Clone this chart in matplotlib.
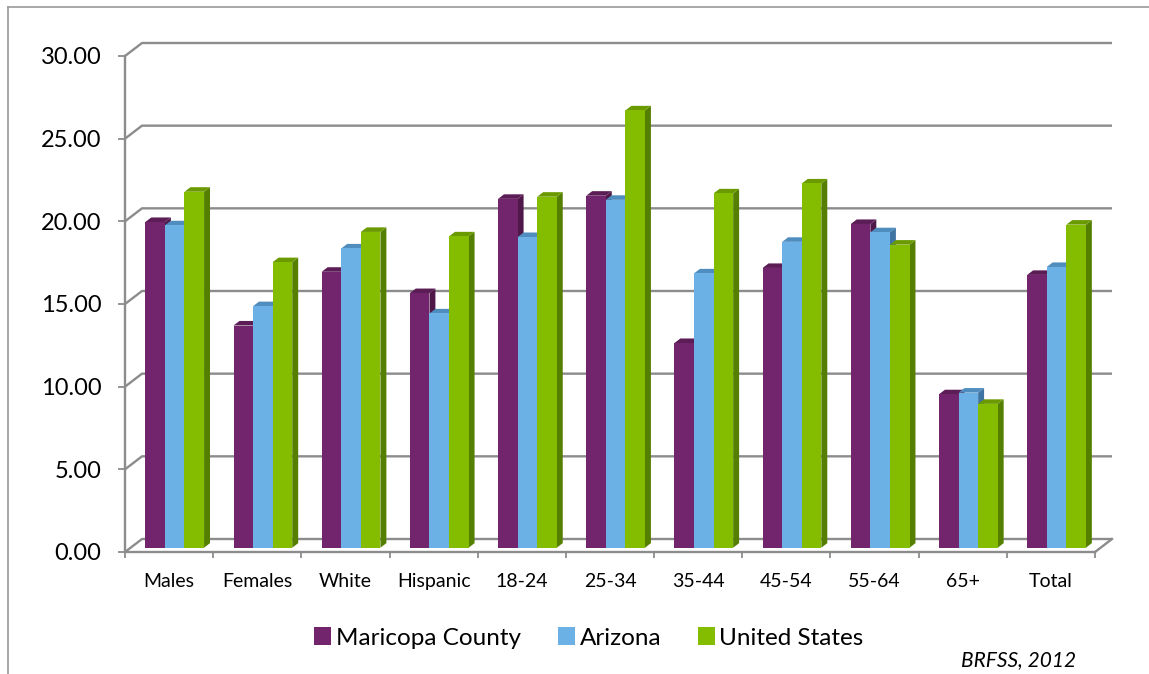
import matplotlib
matplotlib.use("Agg")
import matplotlib.pyplot as plt
from matplotlib.patches import Polygon, Patch
from matplotlib.lines import Line2D
import numpy as np

plt.rcParams['font.family'] = ['Lato', 'DejaVu Sans']

categories = ["Males", "Females", "White", "Hispanic", "18-24", "25-34",
              "35-44", "45-54", "55-64", "65+", "Total"]
maricopa = [19.70, 13.44, 16.69, 15.40, 21.10, 21.29, 12.38, 16.92, 19.58, 9.28, 16.50]
arizona = [19.50, 14.61, 18.10, 14.17, 18.79, 21.04, 16.59, 18.50, 19.08, 9.38, 16.98]
united_states = [21.53, 17.27, 19.10, 18.83, 21.23, 26.45, 21.43, 22.03, 18.33, 8.70, 19.54]
series_names = ["Maricopa County", "Arizona", "United States"]
y_ticks = [0, 5, 10, 15, 20, 25, 30]

front_colors = ["#72246C", "#6BB1E5", "#84BC00"]
top_colors = ["#5C1D57", "#4F8DBF", "#6B9A00"]
side_colors = ["#4F1848", "#3F74A3", "#557F00"]
grid_color = "#8C8C8C"

W, H = 1149, 674
fig = plt.figure(figsize=(W / 100, H / 100), dpi=100)
left_px, right_px, bottom_px, top_px = 125, 1095, 552, 56
ax = fig.add_axes([left_px / W, (H - bottom_px) / H,
                   (right_px - left_px) / W, (bottom_px - top_px) / H])
n = len(categories)
ax.set_xlim(0, n)
ax.set_ylim(0, 30)

# depth of the pseudo-3D box in data units
px_per_x = (right_px - left_px) / n
px_per_y = (bottom_px - top_px) / 30
DX = 17 / px_per_x
DY = 13 / px_per_y

# back wall gridlines and left wall diagonals
for v in y_ticks:
    ax.plot([0, DX, n + DX], [v, v + DY, v + DY], color=grid_color, lw=1.7,
            clip_on=False, zorder=1, solid_capstyle='butt')
ax.plot([n, n + DX], [0, DY], color=grid_color, lw=1.7, clip_on=False, zorder=1)

# bars with pseudo-3D faces
f0, f1 = 0.33, 0.68
bw = 0.222
x = np.arange(n)
data = [maricopa, arizona, united_states]
z = 3
for i in range(n):
    for s in range(3):
        v = data[s][i]
        x0 = x[i] + 0.5 - 1.5 * bw + s * bw + f0 * DX
        y0 = f0 * DY
        ddx = (f1 - f0) * DX
        ddy = (f1 - f0) * DY
        # side face
        ax.add_patch(Polygon([[x0 + bw, y0], [x0 + bw + ddx, y0 + ddy],
                              [x0 + bw + ddx, y0 + v + ddy], [x0 + bw, y0 + v]],
                             closed=True, facecolor=side_colors[s], edgecolor='none',
                             zorder=z, clip_on=False))
        # top face
        ax.add_patch(Polygon([[x0, y0 + v], [x0 + ddx, y0 + v + ddy],
                              [x0 + bw + ddx, y0 + v + ddy], [x0 + bw, y0 + v]],
                             closed=True, facecolor=top_colors[s], edgecolor='none',
                             zorder=z, clip_on=False))
        # front face
        ax.bar(x0, v, width=bw, bottom=y0, align='edge', color=front_colors[s],
               edgecolor='none', zorder=z + 0.5, clip_on=False)
        z += 1

# axes styling
for sp in ['top', 'right']:
    ax.spines[sp].set_visible(False)
for sp in ['left', 'bottom']:
    ax.spines[sp].set_color(grid_color)
    ax.spines[sp].set_linewidth(1.7)
    ax.spines[sp].set_zorder(1)

ax.set_yticks(y_ticks)
ax.set_yticklabels([f"{t:.2f}" for t in y_ticks])
ax.tick_params(axis='y', length=5, width=1.3, color=grid_color, labelsize=17,
               pad=12, labelcolor='black')
ax.set_xticks(np.arange(n + 1))
ax.set_xticklabels([])
ax.tick_params(axis='x', which='major', length=4.5, width=1.3, color=grid_color)
ax.set_xticks(x + 0.5, minor=True)
ax.set_xticklabels(categories, minor=True)
ax.tick_params(axis='x', which='minor', length=0, labelsize=14, pad=15)
ax.set_facecolor('none')

# legend
handles = [Patch(facecolor=c, edgecolor='none') for c in front_colors]
fig.legend(handles, series_names, loc='center', bbox_to_anchor=(589 / W, (H - 638) / H),
           ncol=3, frameon=False, fontsize=17.5, handlelength=0.7, handleheight=0.7,
           handletextpad=0.2, columnspacing=1.5)

# source note
fig.text(1076 / W, (H - 660) / H, "BRFSS, 2012", ha='right', va='center',
         fontsize=15, fontstyle='italic')

# outer frame
fig.add_artist(Line2D([8 / W, 8 / W], [0, (H - 7) / H], color='#9A9A9A', lw=1.2,
                      transform=fig.transFigure))
fig.add_artist(Line2D([8 / W, 1], [(H - 7) / H, (H - 7) / H], color='#9A9A9A', lw=1.2,
                      transform=fig.transFigure))

fig.savefig("out.png", dpi=100)
